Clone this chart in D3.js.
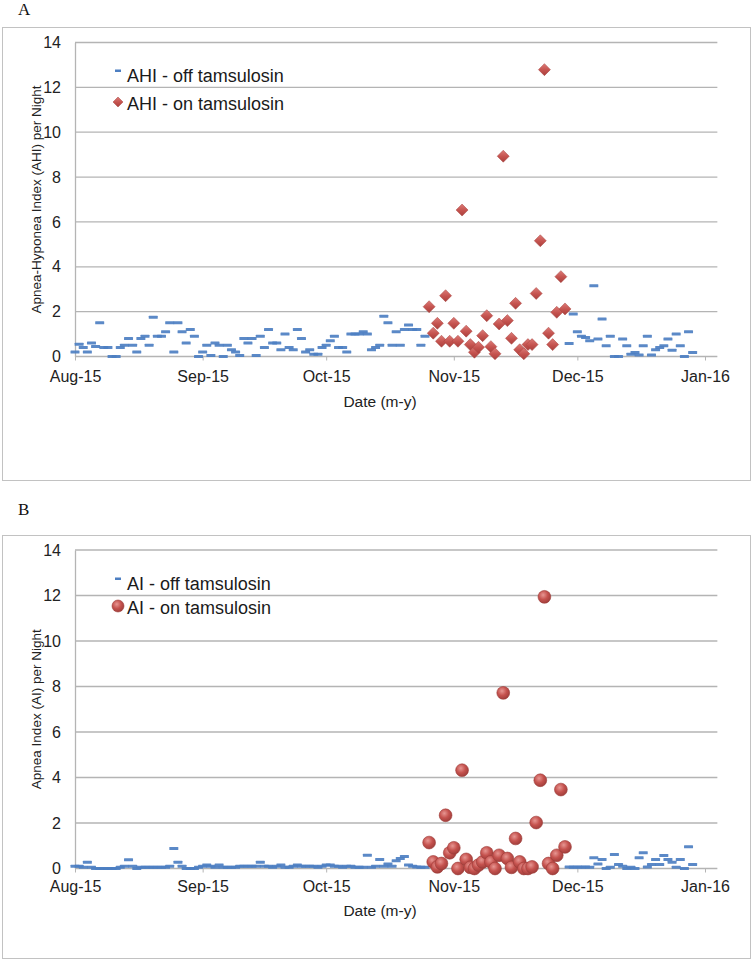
<!DOCTYPE html>
<html>
<head>
<meta charset="utf-8">
<script src="https://cdn.jsdelivr.net/npm/d3@7/dist/d3.min.js"></script>
<style>
  html, body { margin: 0; padding: 0; background: #fff; }
  svg { display: block; }
  text { font-family: "Liberation Sans", Arial, sans-serif; }
</style>
</head>
<body>
<svg id="chart" width="754" height="973"></svg>
<script>
// ---------------- DATA ----------------
const axisStart = "2015-08-01";
const axisEnd = "2016-01-04";
const monthTicks = ["2015-08-01", "2015-09-01", "2015-10-01", "2015-11-01", "2015-12-01", "2016-01-01"];
const yTicks = [0, 2, 4, 6, 8, 10, 12, 14];

// segment start dates (one value per consecutive night)
const offBeforeStart = "2015-08-01";
const onStart = "2015-10-26";
const offAfterStart = "2015-11-29";

// Panel A: AHI
const ahiOffBefore = [0.2, 0.55, 0.4, 0.2, 0.6, 0.45, 1.5, 0.4, 0.4, 0.0, 0.0, 0.4, 0.5, 0.8, 0.5, 0.2,
  0.8, 0.9, 0.5, 1.75, 0.9, 0.9, 1.1, 1.5, 0.2, 1.5, 1.1, 0.6, 1.2, 0.9, 0.0, 0.2, 0.5, 0.05, 0.6, 0.5,
  0.0, 0.5, 0.3, 0.2, 0.05, 0.8, 0.6, 0.8, 0.05, 0.9, 0.4, 1.2, 0.6, 0.6, 0.3, 1.0, 0.4, 0.3, 1.2, 0.8,
  0.2, 0.3, 0.1, 0.1, 0.4, 0.5, 0.7, 0.9, 0.4, 0.4, 0.2, 1.0, 1.0, 1.0, 1.1, 1.0, 0.3, 0.4, 0.5, 1.8,
  1.5, 0.5, 1.1, 0.5, 1.2, 1.4, 1.2, 1.2, 0.5, 0.9];
const ahiOn = [2.22, 1.04, 1.48, 0.68, 2.71, 0.68, 1.48, 0.68, 6.53, 1.13, 0.53, 0.19, 0.41, 0.93, 1.82,
  0.44, 0.12, 1.45, 8.93, 1.6, 0.81, 2.37, 0.30, 0.12, 0.53, 0.53, 2.81, 5.16, 12.79, 1.04, 0.53, 1.97,
  3.56, 2.12];
const ahiOffAfter = [0.58, 1.9, 1.1, 0.9, 0.85, 0.7, 3.16, 0.78, 1.67, 0.48, 0.9, 0.0, 0.0, 0.78, 0.48,
  0.1, 0.18, 0.07, 0.48, 0.9, 0.07, 0.3, 0.4, 0.48, 0.78, 0.28, 1.0, 0.48, 0.0, 1.1, 0.18];

// Panel B: AI
const aiOffBefore = [0.1, 0.1, 0.05, 0.28, 0.05, 0, 0, 0, 0, 0, 0, 0.05, 0.1, 0.38, 0.1, 0, 0.05, 0.05,
  0.05, 0.05, 0.05, 0.05, 0.05, 0.1, 0.88, 0.28, 0.1, 0, 0, 0, 0.05, 0.1, 0.15, 0.1, 0.05, 0.15, 0.05,
  0.05, 0.05, 0.05, 0.1, 0.1, 0.1, 0.1, 0.1, 0.28, 0.1, 0.1, 0.05, 0.1, 0.15, 0.05, 0.05, 0.1, 0.15, 0.1,
  0.1, 0.1, 0.1, 0.05, 0.1, 0.15, 0.15, 0.1, 0.1, 0.05, 0.1, 0.1, 0.05, 0.05, 0.05, 0.58, 0.05, 0.1, 0.4,
  0.1, 0.2, 0.1, 0.34, 0.44, 0.53, 0.15, 0.1, 0.07, 0.05, 0.05];
const aiOn = [1.14, 0.29, 0.07, 0.22, 2.34, 0.69, 0.91, 0.0, 4.32, 0.4, 0.05, 0.0, 0.15, 0.29, 0.69,
  0.29, 0.0, 0.58, 7.72, 0.44, 0.05, 1.32, 0.29, 0.0, 0.0, 0.07, 2.02, 3.88, 11.94, 0.22, 0.0, 0.58,
  3.47, 0.95];
const aiOffAfter = [0.07, 0.05, 0.07, 0.05, 0.07, 0.05, 0.47, 0.2, 0.4, 0, 0.05, 0.62, 0.18, 0.1, 0,
  0.05, 0, 0.47, 0.69, 0.07, 0.18, 0.4, 0.18, 0.57, 0.4, 0.28, 0.05, 0.4, 0, 0.96, 0.18];

// ---------------- DRAWING ----------------
const parse = d3.utcParse("%Y-%m-%d");
const fmtTick = d3.utcFormat("%b-%y");
const svg = d3.select("#chart");

function seg(start, values) {
  const s = parse(start);
  return values.map((v, i) => ({ date: d3.utcDay.offset(s, i), value: v }));
}

const defs = svg.append("defs");
const dg = defs.append("linearGradient").attr("id", "diamondGrad")
  .attr("x1", "0").attr("y1", "0").attr("x2", "0").attr("y2", "1");
dg.append("stop").attr("offset", "0%").attr("stop-color", "#dc7a76");
dg.append("stop").attr("offset", "55%").attr("stop-color", "#c4524e");
dg.append("stop").attr("offset", "100%").attr("stop-color", "#a9403d");
const cg = defs.append("radialGradient").attr("id", "circleGrad")
  .attr("cx", "0.4").attr("cy", "0.35").attr("r", "0.65");
cg.append("stop").attr("offset", "0%").attr("stop-color", "#e79692");
cg.append("stop").attr("offset", "55%").attr("stop-color", "#c5524e");
cg.append("stop").attr("offset", "100%").attr("stop-color", "#a23f3c");

const x = d3.scaleUtc()
  .domain([parse(axisStart), parse("2016-01-01")])
  .range([75, 705]);
const xRight = x(parse(axisEnd));

function panel(cfg) {
  const g = svg.append("g");
  // outer box
  g.append("rect").attr("x", 2.5).attr("y", cfg.boxTop + 0.5)
    .attr("width", 748).attr("height", cfg.boxH)
    .attr("fill", "none").attr("stroke", "#c2c2c2").attr("stroke-width", 1);
  // panel letter
  g.append("text").attr("x", 18).attr("y", cfg.letterY)
    .style("font-family", "'Liberation Serif', 'Times New Roman', serif")
    .attr("font-size", 17).attr("fill", "#111").text(cfg.letter);

  const y = d3.scaleLinear().domain([0, 14]).range([cfg.y0, cfg.y14]);

  // gridlines
  g.append("g").selectAll("line").data(yTicks.filter(t => t > 0)).join("line")
    .attr("x1", 75).attr("x2", xRight)
    .attr("y1", d => y(d)).attr("y2", d => y(d))
    .attr("stroke", "#b4b4b4").attr("stroke-width", 1.3);

  // y axis
  const ya = g.append("g").attr("transform", "translate(75,0)")
    .call(d3.axisLeft(y).tickValues(yTicks).tickSize(0).tickPadding(14));
  ya.select(".domain").attr("stroke", "#b4b4b4").attr("stroke-width", 1.3);
  ya.selectAll("text").attr("font-size", 16).attr("fill", "#222")
    .style("font-family", "'Liberation Sans', Arial, sans-serif");

  // x axis
  const xa = g.append("g").attr("transform", `translate(0,${cfg.y0})`)
    .call(d3.axisBottom(x).tickValues(monthTicks.map(parse)).tickFormat(fmtTick)
      .tickSize(4).tickPadding(cfg.xPad).tickSizeOuter(0));
  xa.select(".domain").attr("d", `M75,0H${xRight}`).attr("stroke", "#b4b4b4").attr("stroke-width", 1.3);
  xa.selectAll(".tick line").attr("stroke", "#b4b4b4");
  xa.selectAll("text").attr("font-size", 16).attr("fill", "#222")
    .style("font-family", "'Liberation Sans', Arial, sans-serif");

  // axis titles
  g.append("text").attr("x", 380).attr("y", cfg.xTitleY).attr("text-anchor", "middle")
    .attr("font-size", 15.5).attr("fill", "#222").text("Date (m-y)");
  g.append("text").attr("transform", `translate(41,${(cfg.y0 + cfg.y14) / 2}) rotate(-90)`)
    .attr("text-anchor", "middle").attr("font-size", 13.5).attr("fill", "#222")
    .text(cfg.yTitle);

  // off dashes
  const off = seg(offBeforeStart, cfg.offBefore).concat(seg(offAfterStart, cfg.offAfter));
  g.append("g").selectAll("rect").data(off).join("rect")
    .attr("x", d => x(d.date) - 4.5).attr("y", d => y(d.value) - 1.5)
    .attr("width", 9).attr("height", 3).attr("rx", 0.5)
    .attr("fill", "#4d7fc2").attr("opacity", 0.92);

  // on markers
  const on = seg(onStart, cfg.on);
  if (cfg.marker === "diamond") {
    g.append("g").selectAll("path").data(on).join("path")
      .attr("d", "M0,-6L6,0L0,6L-6,0Z")
      .attr("transform", d => `translate(${x(d.date)},${y(d.value)})`)
      .attr("fill", "url(#diamondGrad)").attr("stroke", "#a7423f").attr("stroke-width", 0.5);
  } else {
    g.append("g").selectAll("circle").data(on).join("circle")
      .attr("cx", d => x(d.date)).attr("cy", d => y(d.value)).attr("r", 6.4)
      .attr("fill", "url(#circleGrad)").attr("stroke", "#9c3b38").attr("stroke-width", 0.6);
  }

  // legend
  const lg = g.append("g");
  lg.append("rect").attr("x", 115).attr("y", cfg.leg1Y - 1.5).attr("width", 6).attr("height", 2.5)
    .attr("fill", "#4d7fc2");
  lg.append("text").attr("x", 127).attr("y", cfg.leg1Y + 11).attr("font-size", 18).attr("fill", "#1a1a1a")
    .text(cfg.legOff);
  if (cfg.marker === "diamond") {
    lg.append("path").attr("d", "M0,-5L5,0L0,5L-5,0Z")
      .attr("transform", `translate(118,${cfg.leg2Y})`)
      .attr("fill", "url(#diamondGrad)").attr("stroke", "#a7423f").attr("stroke-width", 0.5);
  } else {
    lg.append("circle").attr("cx", 118).attr("cy", cfg.leg2Y).attr("r", 6)
      .attr("fill", "url(#circleGrad)").attr("stroke", "#9c3b38").attr("stroke-width", 0.6);
  }
  lg.append("text").attr("x", 127).attr("y", cfg.leg2Y + 8).attr("font-size", 18).attr("fill", "#1a1a1a")
    .text(cfg.legOn);
}

panel({
  letter: "A", letterY: 15, boxTop: 27, boxH: 453,
  y0: 356.5, y14: 42.5, xPad: 10, xTitleY: 407,
  yTitle: "Apnea-Hyponea Index (AHI) per Night",
  offBefore: ahiOffBefore, on: ahiOn, offAfter: ahiOffAfter,
  marker: "diamond",
  leg1Y: 71, leg2Y: 102,
  legOff: "AHI - off tamsulosin", legOn: "AHI - on tamsulosin"
});

panel({
  letter: "B", letterY: 515, boxTop: 535, boxH: 423,
  y0: 868.5, y14: 550, xPad: 8, xTitleY: 916,
  yTitle: "Apnea Index (AI) per Night",
  offBefore: aiOffBefore, on: aiOn, offAfter: aiOffAfter,
  marker: "circle",
  leg1Y: 579, leg2Y: 606,
  legOff: "AI - off tamsulosin", legOn: "AI - on tamsulosin"
});
</script>
</body>
</html>
